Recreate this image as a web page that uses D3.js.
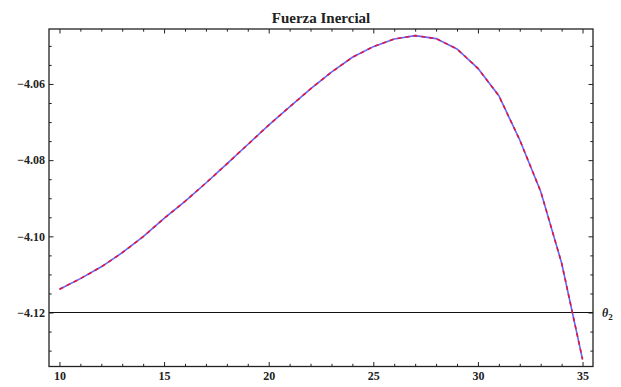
<!DOCTYPE html>
<html>
<head>
<meta charset="utf-8">
<script src="https://cdn.jsdelivr.net/npm/d3@7"></script>
<style>
  html, body { margin: 0; padding: 0; background: #fff; }
  svg { display: block; }
  .tick text { font-family: "Liberation Serif", "Times New Roman", serif; font-weight: bold; font-size: 12px; fill: #222; }
</style>
</head>
<body>
<svg id="chart" width="621" height="387"></svg>
<script>
// ---- data ----
const title = "Fuerza Inercial";
const theta2 = [10, 11, 12, 13, 14, 15, 16, 17, 18, 19, 20, 21, 22, 23, 24, 25, 26, 27, 28, 29, 30, 31, 32, 33, 34, 35];
const force = [-4.1139, -4.1111, -4.1080, -4.1043, -4.1001, -4.0953, -4.0908, -4.0860, -4.0810, -4.0759,
               -4.0708, -4.0660, -4.0613, -4.0569, -4.0530, -4.0502, -4.0482, -4.0473, -4.0481, -4.0508,
               -4.0559, -4.0631, -4.0747, -4.0882, -4.1070, -4.1323];
const xMajorTicks = [10, 15, 20, 25, 30, 35];
const yMajorTicks = [-4.06, -4.08, -4.10, -4.12];
const axisOrigin = -4.12;
const axisLabel = "θ";
const axisLabelSub = "2";

// ---- layout ----
const W = 621, H = 387;
const m = { left: 49, top: 29, right: 28, bottom: 20.5 };
const iw = W - m.left - m.right, ih = H - m.top - m.bottom;

const svg = d3.select("#chart");
const g = svg.append("g").attr("transform", `translate(${m.left},${m.top})`);

const x = d3.scaleLinear().domain([9.5, 35.5]).range([0, iw]);
const y = d3.scaleLinear().domain([-4.13417, -4.04557]).range([ih, 0]);

const xMinor = d3.range(10, 36, 1).filter(v => !xMajorTicks.includes(v));
const yMinor = d3.range(-4.130, -4.045, 0.005).map(v => +v.toFixed(3)).filter(v => !yMajorTicks.some(t => Math.abs(t - v) < 1e-6));

const fmt = v => d3.format(".2f")(v);

function styleAxis(sel) {
  sel.select(".domain").remove();
  sel.selectAll(".tick line").attr("stroke", "#222").attr("stroke-width", 1);
}

// major axes with labels
g.append("g").attr("transform", `translate(0,${ih})`)
  .call(d3.axisBottom(x).tickValues(xMajorTicks).tickSizeInner(-4.5).tickSizeOuter(0).tickPadding(5).tickFormat(d3.format("d")))
  .call(styleAxis);
g.append("g")
  .call(d3.axisLeft(y).tickValues(yMajorTicks).tickSizeInner(-4.5).tickSizeOuter(0).tickPadding(4).tickFormat(fmt))
  .call(styleAxis);
// unlabeled top/right majors
g.append("g")
  .call(d3.axisTop(x).tickValues(xMajorTicks).tickSizeInner(-4.5).tickSizeOuter(0).tickFormat(""))
  .call(styleAxis);
g.append("g").attr("transform", `translate(${iw},0)`)
  .call(d3.axisRight(y).tickValues(yMajorTicks).tickSizeInner(-4.5).tickSizeOuter(0).tickFormat(""))
  .call(styleAxis);
// minors
g.append("g").attr("transform", `translate(0,${ih})`)
  .call(d3.axisBottom(x).tickValues(xMinor).tickSizeInner(-2.7).tickSizeOuter(0).tickFormat(""))
  .call(styleAxis);
g.append("g")
  .call(d3.axisTop(x).tickValues(xMinor).tickSizeInner(-2.7).tickSizeOuter(0).tickFormat(""))
  .call(styleAxis);
g.append("g")
  .call(d3.axisLeft(y).tickValues(yMinor).tickSizeInner(-2.7).tickSizeOuter(0).tickFormat(""))
  .call(styleAxis);
g.append("g").attr("transform", `translate(${iw},0)`)
  .call(d3.axisRight(y).tickValues(yMinor).tickSizeInner(-2.7).tickSizeOuter(0).tickFormat(""))
  .call(styleAxis);

// horizontal axis at origin
g.append("line")
  .attr("x1", 0).attr("x2", iw)
  .attr("y1", y(axisOrigin)).attr("y2", y(axisOrigin))
  .attr("stroke", "#111").attr("stroke-width", 1.2);

// curves
const pts = theta2.map((t, i) => [t, force[i]]);
const line = d3.line().x(d => x(d[0])).y(d => y(d[1]));
g.append("path").datum(pts).attr("d", line)
  .attr("fill", "none").attr("stroke", "#6464ff").attr("stroke-width", 1.6);
g.append("path").datum(pts).attr("d", line)
  .attr("fill", "none").attr("stroke", "#e4143a").attr("stroke-width", 1.6)
  .attr("stroke-dasharray", "4,4");

// frame
g.append("rect").attr("x", 0).attr("y", 0).attr("width", iw).attr("height", ih)
  .attr("fill", "none").attr("stroke", "#222").attr("stroke-width", 1.3);

// axis label theta_2
const lab = g.append("text")
  .attr("x", iw + 9).attr("y", y(axisOrigin) + 4)
  .attr("font-family", "Liberation Serif, Times New Roman, serif")
  .attr("font-weight", "bold").attr("font-size", 12).attr("fill", "#222");
lab.append("tspan").attr("font-style", "italic").text(axisLabel);
lab.append("tspan").attr("font-size", 9).attr("dy", 3).text(axisLabelSub);

// title
svg.append("text")
  .attr("x", m.left + iw / 2).attr("y", 23)
  .attr("text-anchor", "middle")
  .attr("font-family", "Liberation Serif, Times New Roman, serif")
  .attr("font-weight", "bold").attr("font-size", 15).attr("fill", "#222")
  .text(title);
</script>
</body>
</html>
